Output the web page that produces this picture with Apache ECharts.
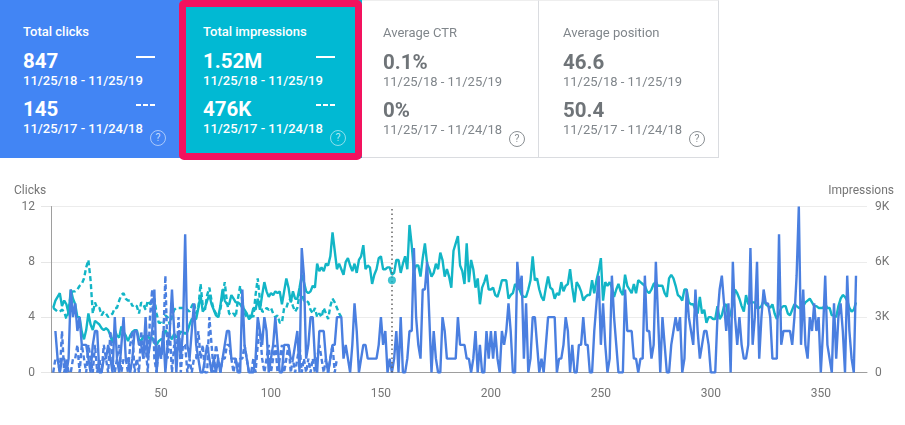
<!DOCTYPE html>
<html>
<head>
<meta charset="utf-8">
<title>Search performance</title>
<script src="https://cdn.jsdelivr.net/npm/echarts@6/dist/echarts.min.js"></script>
<style>
  html, body { margin: 0; padding: 0; background: #fff; }
  body { width: 905px; height: 425px; position: relative; overflow: hidden; font-family: Roboto, sans-serif; }
  #chart { position: absolute; left: 0; top: 0; width: 905px; height: 425px; }
  .card { position: absolute; top: 0; height: 158px; box-sizing: border-box; color: #fff; }
  .card div, .card span { position: absolute; white-space: nowrap; }
  .title { top: 24px; font-size: 13px; font-weight: 500; }
  .val { font-size: 20.5px; font-weight: 700; line-height: 24px; }
  .date { font-size: 13px; font-weight: 500; line-height: 16px; }
  .v1 { top: 49px; } .d1 { top: 72.5px; } .v2 { top: 97px; } .d2 { top: 120.5px; }
  .l1 { top: 56px; width: 19px; height: 2px; background: #fff; }
  .l2 { top: 104px; width: 19px; height: 2px; background: repeating-linear-gradient(90deg, #fff 0, #fff 5px, transparent 5px, transparent 7px); }
  .help { top: 130px; width: 14px; height: 14px; border: 1.3px solid rgba(255,255,255,.55); border-radius: 50%;
          font-size: 10.5px; line-height: 14px; text-align: center; color: rgba(255,255,255,.7); }
  .gray { color: #80868b; border-right: 1px solid #dadce0; border-bottom: 1px solid #dadce0; border-top: 1px solid #eee; }
  .gray .val { color: #6f7478; font-weight: 700; }
  .gray .date { font-weight: 400; color: #80868b; }
  .gray .title { font-weight: 400; }
  .gray .help { border-color: #8a8f93; color: #8a8f93; }
  #pink { position: absolute; left: 179px; top: 0; width: 183px; height: 160px; box-sizing: border-box;
          border: 7px solid #f3125e; border-radius: 5px; }
</style>
</head>
<body>
<div id="chart"></div>
<div id="cards"></div>
<div id="pink"></div>
<script>
// previous period starts on day 1, current clicks on day 2
var clicksStart = 2;
var clicks = [
  3,1,0,1,1,0,1,6,4,
  5,3,4,2,2,2,1,0,2,3,
  3,0,0,1,1,2,1,0,4,1,
  0,2,4,1,1,0,1,3,3,2,
  2,1,4,1,2,3,6,0,2,1,
  3,0,2,3,6,3,0,3,1,3,
  10,2,1,3,5,2,1,0,0,1,
  2,1,0,1,0,1,0,1,2,3,
  3,1,1,1,0,0,6,2,1,0,
  0,0,1,4,3,2,4,3,0,1,
  2,4,2,0,0,2,2,2,1,1,
  2,3,0,9,7,1,2,4,4,1,
  0,3,3,3,1,0,1,2,2,4,
  4,4,1,2,1,0,2,5,3,0,
  1,2,2,1,1,1,1,1,2,4,
  2,3,0,1,0,1,3,0,4,0,
  0,1,3,3,9,4,2,1,6,6,
  8,4,0,3,1,0,0,4,3,1,
  1,1,1,1,4,2,2,2,1,1,
  0,1,3,0,2,0,0,3,1,3,
  1,3,1,0,3,2,3,5,3,0,
  0,8,6,7,1,5,0,1,4,4,
  2,0,1,0,2,4,4,4,4,0,
  1,1,2,4,3,0,2,0,0,2,
  2,4,2,2,0,0,3,5,7,2,
  5,2,0,1,7,4,2,0,0,0,
  6,3,3,3,1,1,0,1,1,7,
  3,3,1,2,8,4,0,4,2,0,
  0,2,3,4,3,4,0,1,6,4,
  3,2,6,3,1,2,3,3,2,0,
  0,0,4,6,7,5,3,5,0,8,
  4,2,4,2,1,1,2,9,2,4,
  8,1,4,6,5,5,4,1,1,1,
  10,2,3,3,3,3,2,4,7,12,
  2,6,2,1,4,3,5,3,4,0,
  3,7,2,1,0,5,1,4,5,3,
  0,7,3,1,0,7
];
var impressions = [
  3.5,3.9,4.1,4.3,3.6,3.9,3.7,3.2,4.5,4.0,
  3.7,3.0,3.0,2.2,1.8,2.3,3.2,2.6,2.3,2.8,
  2.7,2.6,2.4,2.3,2.4,2.3,2.0,1.6,2.3,2.0,
  1.9,2.5,2.2,2.0,1.7,2.0,2.2,2.3,2.3,1.8,
  1.7,2.0,1.8,2.0,1.8,1.9,1.6,1.5,1.7,1.8,
  1.8,2.3,2.1,2.0,1.8,2.1,1.9,2.0,2.2,2.2,
  2.1,2.2,2.6,2.9,2.9,2.9,3.5,4.2,3.3,3.5,
  3.9,4.2,3.7,3.4,3.1,3.0,3.6,4.5,3.9,3.7,
  3.7,4.2,4.0,3.8,3.8,3.7,3.5,3.4,3.2,2.9,
  3.0,3.5,3.4,4.0,3.4,4.2,4.9,4.4,4.1,4.3,
  4.2,4.4,4.3,4.4,3.7,4.4,5.1,4.6,3.8,4.4,
  4.0,4.0,4.6,5.3,4.9,4.4,4.3,4.4,4.7,4.6,
  5.9,5.5,5.7,5.5,5.9,5.8,6.3,7.6,6.6,5.6,
  5.9,5.6,5.3,6.0,6.2,5.8,5.5,5.9,5.4,6.1,
  6.3,6.9,5.6,5.8,5.7,4.8,5.3,5.6,6.2,6.3,
  5.6,5.6,5.7,5.7,5.3,5.4,6.1,6.1,5.4,5.9,
  6.3,5.6,8.0,6.9,5.5,5.8,5.8,5.2,6.2,7.0,
  5.9,5.6,5.2,5.4,5.9,5.6,6.5,6.1,5.2,5.6,
  5.2,4.6,6.6,7.0,7.4,5.8,5.5,4.8,7.0,4.9,
  6.1,5.6,4.6,5.1,3.7,4.6,4.9,5.3,4.5,4.5,
  4.6,4.2,4.1,4.5,5.0,5.0,5.0,4.0,4.2,4.3,
  4.8,4.6,4.5,4.2,4.1,4.1,4.5,5.0,6.3,5.0,
  5.1,4.5,4.1,3.9,4.6,5.2,4.6,4.5,4.0,4.3,
  4.2,4.9,4.4,4.7,4.8,5.6,4.6,3.8,4.9,4.7,
  4.4,3.9,4.1,4.2,4.2,5.0,4.3,5.0,5.5,6.2,
  3.9,4.9,4.7,4.9,4.6,4.1,4.5,4.8,4.4,4.2,
  5.3,4.7,4.5,4.3,4.8,4.3,5.0,4.9,4.8,4.7,
  4.4,4.3,4.5,4.8,4.9,4.7,4.7,4.7,4.3,4.1,
  5.1,5.3,5.1,4.7,4.2,4.1,3.9,4.5,4.5,3.8,
  3.7,3.7,3.4,3.2,4.1,3.2,3.4,2.7,3.0,3.0,
  2.9,2.9,3.6,2.9,3.1,3.6,3.7,2.9,3.2,3.7,
  4.5,4.3,4.0,3.6,3.3,4.2,3.7,3.8,3.8,3.8,
  3.5,3.5,3.6,3.9,3.7,3.6,3.5,3.7,3.2,2.9,
  3.2,3.5,3.6,3.6,3.2,3.1,3.4,3.7,3.6,3.5,
  3.5,3.6,3.8,3.9,4.0,3.8,3.6,3.6,3.5,3.5,
  3.5,3.7,3.5,3.5,3.1,3.1,3.0,3.6,4.0,4.2,
  4.1,3.9,3.5,3.3,3.4,3.8
];
var prevClicks = [
  0,1,1,0,3,0,1,0,0,1,
  1,2,0,2,1,0,2,1,0,2,
  0,1,0,2,1,0,3,1,0,1,
  2,0,1,1,0,2,3,0,1,0,
  3,1,2,0,4,6,1,0,2,1,
  2,7,1,3,0,2,1,4,0,2,
  2,0,1,0,1,1,3,1,2,0,
  0,4,2,0,2,1,0,1,1,2,
  2,1,0,1,0,1,1,2,1,0,
  0,1,0,2,3,1,0,1,2,0,
  1,2,0,1,2,0,1,2,0,1,
  0,1,2,0,1,0,1,0,1,0,
  1,2,1,0,1,0,1,2,0,1
];
var prevImpressions = [
  3.5,3.4,3.3,3.3,3.4,3.3,2.9,3.3,4.3,4.4,
  4.4,4.5,4.7,4.8,5.1,5.7,6.1,5.0,3.2,3.8,
  3.5,3.5,3.1,3.3,3.2,3.0,3.1,3.2,3.5,3.5,
  3.9,4.2,4.3,4.0,3.9,3.9,3.6,3.7,3.6,3.2,
  3.8,3.7,3.4,3.9,3.7,3.8,4.0,3.2,2.7,2.7,
  2.6,3.1,3.0,2.6,3.0,3.4,3.5,3.5,3.5,3.5,
  3.5,3.4,3.3,3.6,3.8,3.2,3.5,4.8,3.6,3.4,
  4.2,4.6,3.9,3.4,3.2,3.0,3.4,4.2,4.9,3.8,
  3.2,3.1,3.2,3.0,4.0,4.7,3.8,3.2,3.0,2.9,
  3.2,3.0,4.2,5.1,3.9,3.3,3.3,3.5,3.4,3.5,
  3.2,3.0,3.1,2.7,2.7,3.5,3.5,3.9,4.0,3.6,
  3.3,3.5,4.3,4.3,3.9,3.9,3.8,3.4,3.2,3.5,
  3.0,3.2,3.0,3.5,3.2,2.9,3.6,4.0,3.8,3.5,
  3.2,3.0
];
var hoverDay = 155;
var hoverImpressions = 5.0;
var xTicks = [50, 100, 150, 200, 250, 300, 350];

var cards = [
  { title: 'Total clicks', cur: '847', prev: '145', left: 0, width: 180, text: 23, lines: 136, help: 150, bg: '#4285f4' },
  { title: 'Total impressions', cur: '1.52M', prev: '476K', left: 180, width: 182, text: 23, lines: 136, help: 150, bg: '#01b9d3' },
  { title: 'Average CTR', cur: '0.1%', prev: '0%', left: 362, width: 177, text: 21, help: 147, gray: true },
  { title: 'Average position', cur: '46.6', prev: '50.4', left: 539, width: 180, text: 24, help: 150, gray: true }
];
var curRange = '11/25/18 - 11/25/19';
var prevRange = '11/25/17 - 11/24/18';

var html = '';
cards.forEach(function (c) {
  var x = 'left:' + c.text + 'px';
  html += '<div class="card' + (c.gray ? ' gray' : '') + '" style="left:' + c.left + 'px;width:' + c.width + 'px;' +
    (c.bg ? 'background:' + c.bg : '') + '">' +
    '<div class="title" style="' + x + '">' + c.title + '</div>' +
    '<div class="val v1" style="' + x + '">' + c.cur + '</div>' +
    '<div class="date d1" style="' + x + '">' + curRange + '</div>' +
    '<div class="val v2" style="' + x + '">' + c.prev + '</div>' +
    '<div class="date d2" style="' + x + '">' + prevRange + '</div>' +
    (c.lines ? '<span class="l1" style="left:' + c.lines + 'px"></span><span class="l2" style="left:' + c.lines + 'px"></span>' : '') +
    '<div class="help" style="left:' + c.help + 'px">?</div></div>';
});
document.getElementById('cards').innerHTML = html;

function toPoints(values, start) {
  return values.map(function (v, i) { return [start + i, v]; });
}

var blue = '#4a7fe0';
var teal = '#12b5c6';
var grayText = '#757575';

var myChart = echarts.init(document.getElementById('chart'));
var option = {
  animation: false,
  title: [
    { text: 'Clicks', left: 9, top: 180, textStyle: { fontSize: 12, fontWeight: 400, color: grayText, fontFamily: 'Roboto' } },
    { text: 'Impressions', right: 6, top: 180, textStyle: { fontSize: 12, fontWeight: 400, color: grayText, fontFamily: 'Roboto' } }
  ],
  grid: { left: 51, right: 38, top: 206.5, height: 166 },
  xAxis: {
    type: 'value', min: 0, max: 371, interval: 50,
    axisLine: { show: true, onZero: false, lineStyle: { color: '#9e9e9e', width: 1 } },
    axisTick: { show: false },
    splitLine: { show: false },
    axisLabel: {
      color: grayText, fontSize: 12, fontFamily: 'Roboto', margin: 15,
      formatter: function (v) { return xTicks.indexOf(v) >= 0 ? v : ''; }
    }
  },
  yAxis: [
    {
      type: 'value', min: 0, max: 12, interval: 4,
      axisLine: { show: true, lineStyle: { color: '#9e9e9e', width: 1 } },
      axisTick: { show: true, length: 10, lineStyle: { color: '#e6e6e6' } },
      splitLine: { lineStyle: { color: '#ececec' } },
      axisLabel: { color: grayText, fontSize: 12, fontFamily: 'Roboto', margin: 16 }
    },
    {
      type: 'value', min: 0, max: 9, interval: 3,
      axisLine: { show: false }, axisTick: { show: false }, splitLine: { show: false },
      axisLabel: {
        color: grayText, fontSize: 12, fontFamily: 'Roboto', margin: 8,
        formatter: function (v) { return v ? v + 'K' : '0'; }
      }
    }
  ],
  series: [
    {
      type: 'line', yAxisIndex: 1, data: toPoints(prevImpressions, 1), showSymbol: false,
      lineStyle: { color: teal, width: 2.4, type: [5, 3] }
    },
    {
      type: 'line', yAxisIndex: 1, data: toPoints(impressions, 1), showSymbol: false,
      lineStyle: { color: teal, width: 2.4 }
    },
    {
      type: 'line', yAxisIndex: 0, data: toPoints(prevClicks, 1), showSymbol: false,
      lineStyle: { color: blue, width: 2.4, type: [5, 3] }
    },
    {
      type: 'line', yAxisIndex: 0, data: toPoints(clicks, clicksStart), showSymbol: false,
      lineStyle: { color: blue, width: 2.4 },
      markLine: {
        silent: true, symbol: 'none', label: { show: false },
        lineStyle: { color: '#666', type: [1.5, 3], width: 1.5 },
        data: [{ xAxis: hoverDay }]
      }
    },
    {
      type: 'scatter', yAxisIndex: 1, data: [[hoverDay, hoverImpressions]], symbolSize: 8,
      itemStyle: { color: teal }, z: 5
    }
  ]
};
myChart.setOption(option);
</script>
</body>
</html>
